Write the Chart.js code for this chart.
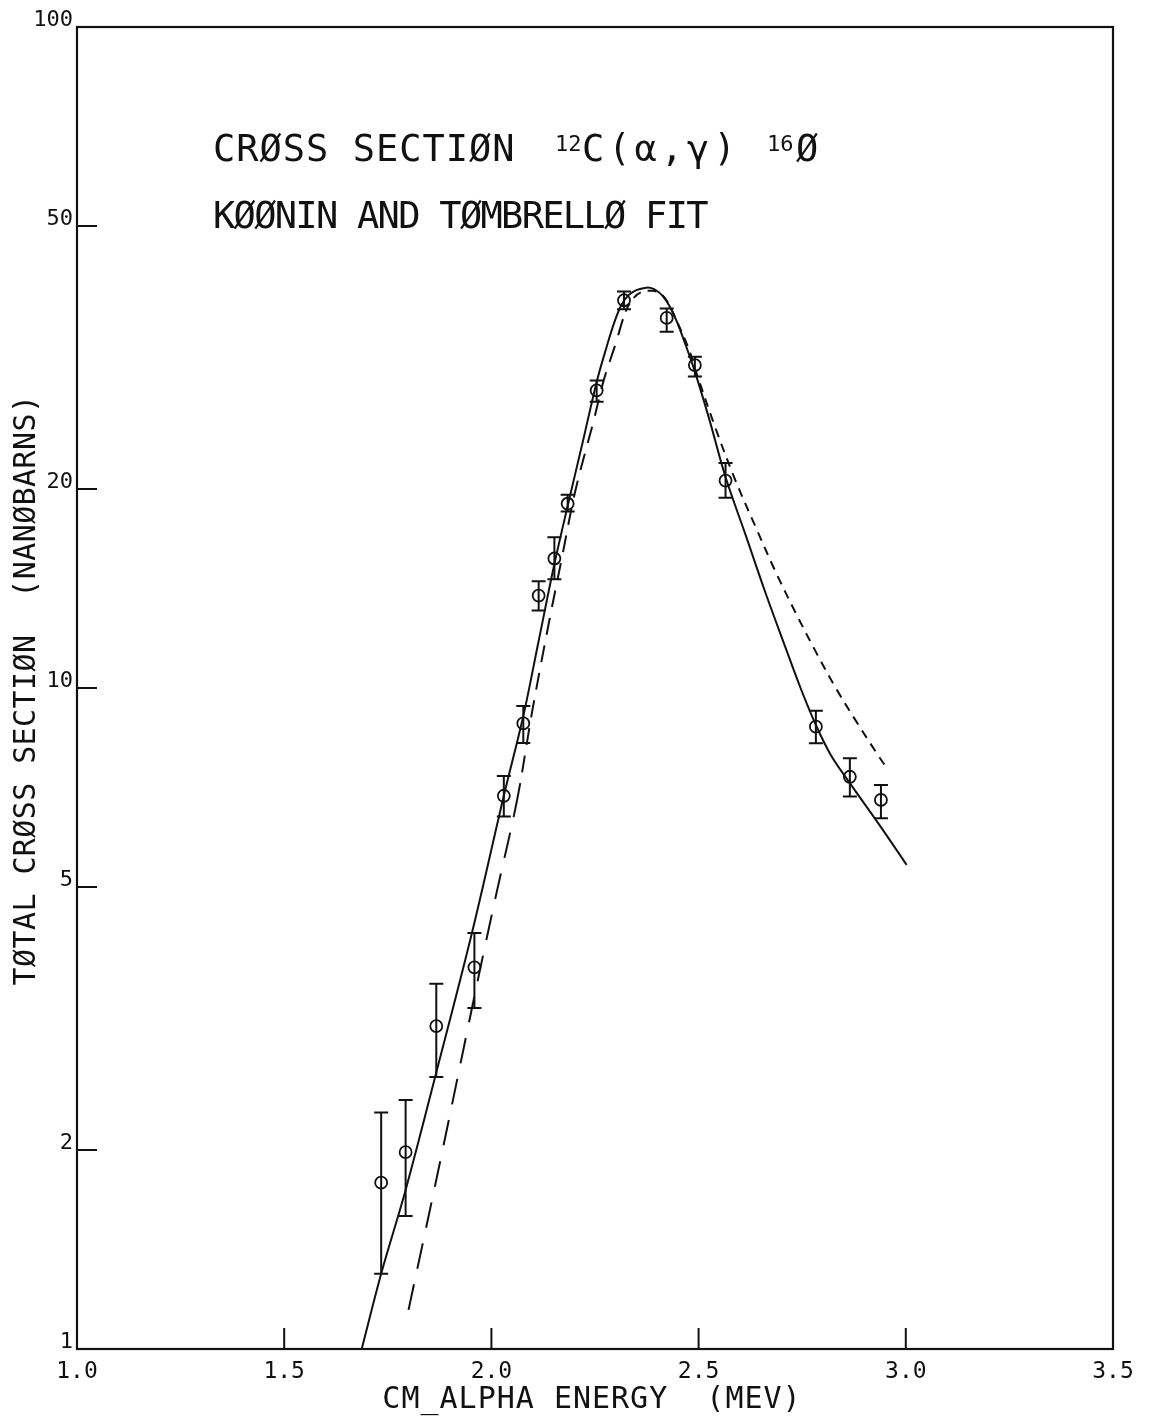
<!DOCTYPE html>
<html>
<head>
<meta charset="utf-8">
<script src="https://cdn.jsdelivr.net/npm/chart.js@4.4.1/dist/chart.umd.min.js"></script>
<style>
  html, body { margin: 0; padding: 0; background: #ffffff; }
  #wrap { width: 1154px; height: 1420px; position: relative; }
</style>
</head>
<body>
<div id="wrap"><canvas id="c" width="1154" height="1420"></canvas></div>
<script>
// ---- data ----
const pointEnergy = [1.734, 1.793, 1.867, 1.959, 2.030, 2.077, 2.114, 2.152, 2.184, 2.254, 2.320, 2.423, 2.491, 2.565, 2.783, 2.865, 2.940];
const pointSigma  = [1.785, 1.985, 3.08, 3.78, 6.87, 8.84, 13.8, 15.7, 19.0, 28.2, 38.6, 36.3, 30.8, 20.6, 8.74, 7.34, 6.77];
const errHigh     = [2.28, 2.38, 3.57, 4.26, 7.36, 9.39, 14.5, 16.9, 19.6, 29.2, 39.8, 37.5, 31.7, 21.9, 9.24, 7.83, 7.13];
const errLow      = [1.30, 1.59, 2.58, 3.28, 6.39, 8.26, 13.1, 14.6, 18.5, 27.1, 37.4, 34.6, 29.6, 19.4, 8.25, 6.85, 6.35];

const solidEnergy = [1.687, 1.734, 1.793, 1.867, 1.953, 2.030, 2.077, 2.114, 2.152, 2.184, 2.220, 2.255, 2.278, 2.297, 2.314, 2.331, 2.350, 2.370, 2.384, 2.399, 2.413, 2.428, 2.447, 2.469, 2.491, 2.525, 2.565, 2.614, 2.662, 2.710, 2.746, 2.783, 2.819, 2.865, 2.940, 3.002];
const solidSigma  = [1.00, 1.30, 1.74, 2.62, 4.26, 6.87, 9.07, 11.78, 15.40, 18.85, 23.5, 29.2, 32.8, 35.8, 38.0, 39.3, 40.0, 40.3, 40.3, 39.9, 39.2, 38.0, 35.9, 33.0, 30.1, 25.6, 20.85, 17.0, 13.9, 11.5, 10.0, 8.79, 7.92, 7.18, 6.16, 5.40];

const dashEnergy = [1.800, 1.877, 1.969, 2.014, 2.062, 2.099, 2.140, 2.171, 2.203, 2.247, 2.271, 2.300, 2.324, 2.343, 2.362, 2.388, 2.408, 2.425, 2.444, 2.477, 2.493, 2.541, 2.589, 2.638, 2.686, 2.734, 2.783, 2.831, 2.880, 2.928, 2.957];
const dashSigma  = [1.146, 1.93, 3.66, 4.95, 6.77, 9.26, 12.67, 15.84, 19.93, 25.4, 29.2, 33.2, 37.1, 38.9, 39.7, 39.9, 39.5, 38.4, 36.3, 32.5, 30.2, 24.7, 20.6, 17.5, 14.98, 13.0, 11.34, 10.0, 8.91, 8.00, 7.52];

const yTickValues = [1, 2, 5, 10, 20, 50, 100];
const xTickValues = [1.0, 1.5, 2.0, 2.5, 3.0, 3.5];

const titleLine1 = 'CRØSS SECTIØN';
const titleLine2 = 'KØØNIN AND TØMBRELLØ FIT';
const xAxisTitle = 'CM_ALPHA ENERGY  (MEV)';
const yAxisTitle = 'TØTAL CRØSS SECTIØN  (NANØBARNS)';

// ---- build ----
const zip = (xs, ys) => xs.map((x, i) => ({ x: x, y: ys[i] }));
const MONO = '"DejaVu Sans Mono", "Liberation Mono", monospace';
const INK = '#111111';

const decor = {
  id: 'decor',
  afterDatasetsDraw(chart) {
    const ctx = chart.ctx;
    const xs = chart.scales.x, ys = chart.scales.y;
    const a = chart.chartArea;
    ctx.save();
    // error bars
    ctx.strokeStyle = INK;
    ctx.lineWidth = 2;
    pointEnergy.forEach((e, i) => {
      const px = xs.getPixelForValue(e);
      const pHi = ys.getPixelForValue(errHigh[i]);
      const pLo = ys.getPixelForValue(errLow[i]);
      ctx.beginPath();
      ctx.moveTo(px, pHi); ctx.lineTo(px, pLo);
      ctx.moveTo(px - 7, pHi); ctx.lineTo(px + 7, pHi);
      ctx.moveTo(px - 7, pLo); ctx.lineTo(px + 7, pLo);
      ctx.stroke();
    });
    // frame
    ctx.lineWidth = 2.2;
    ctx.strokeRect(a.left, a.top, a.right - a.left, a.bottom - a.top);
    // inward ticks
    ctx.lineWidth = 2;
    ctx.beginPath();
    ys.ticks.forEach(t => {
      const py = ys.getPixelForValue(t.value);
      ctx.moveTo(a.left, py); ctx.lineTo(a.left + 20, py);
    });
    xs.ticks.forEach(t => {
      const px = xs.getPixelForValue(t.value);
      ctx.moveTo(px, a.bottom); ctx.lineTo(px, a.bottom - 21);
    });
    ctx.stroke();

    // titles
    ctx.fillStyle = INK;
    ctx.textBaseline = 'alphabetic';
    ctx.textAlign = 'left';
    ctx.font = '37px ' + MONO;
    ctx.letterSpacing = '1px';
    ctx.fillText(titleLine1, 213, 161);
    ctx.letterSpacing = '-1.7px';
    ctx.fillText(titleLine2, 213, 228);
    // formula 12C(a,g)16O
    ctx.letterSpacing = '0px';
    ctx.font = '22px ' + MONO;
    ctx.fillText('12', 555, 151);
    ctx.font = '37px ' + MONO;
    ctx.letterSpacing = '4px';
    ctx.fillText('C(α,γ)', 582, 161);
    ctx.font = '22px ' + MONO;
    ctx.letterSpacing = '0px';
    ctx.fillText('16', 767, 151);
    ctx.font = '37px ' + MONO;
    ctx.fillText('Ø', 796, 161);

    // axis titles
    ctx.font = '30px ' + MONO;
    ctx.textAlign = 'center';
    ctx.textBaseline = 'middle';
    ctx.letterSpacing = '1px';
    ctx.fillText(xAxisTitle, 592, 1400);
    ctx.translate(27, 690);
    ctx.rotate(-Math.PI / 2);
    ctx.letterSpacing = '0.4px';
    ctx.fillText(yAxisTitle, 0, 0);
    ctx.restore();
  }
};

new Chart(document.getElementById('c'), {
  type: 'scatter',
  data: {
    datasets: [
      {
        label: 'Koonin & Tombrello fit (solid)',
        data: zip(solidEnergy, solidSigma),
        showLine: true,
        borderColor: INK,
        borderWidth: 2,
        pointRadius: 0,
        fill: false,
        tension: 0.35
      },
      {
        label: 'fit (dashed)',
        data: zip(dashEnergy, dashSigma),
        showLine: true,
        borderColor: INK,
        borderWidth: 2,
        pointRadius: 0,
        fill: false,
        tension: 0.35,
        segment: {
          borderDash: c => (c.p0.parsed.x < 2.05 ? [26, 16] : (c.p0.parsed.x < 2.32 ? [17, 11] : [9, 7]))
        }
      },
      {
        label: 'data',
        data: zip(pointEnergy, pointSigma),
        showLine: false,
        pointStyle: 'circle',
        pointRadius: 6,
        pointBorderWidth: 1.8,
        pointBorderColor: INK,
        pointBackgroundColor: 'rgba(255,255,255,0)'
      }
    ]
  },
  options: {
    responsive: false,
    animation: false,
    devicePixelRatio: 1,
    layout: { padding: { top: 27, right: 41, left: 0, bottom: 0 } },
    plugins: { legend: { display: false }, tooltip: { enabled: false } },
    scales: {
      x: {
        type: 'linear',
        min: 1.0,
        max: 3.5,
        afterBuildTicks: s => { s.ticks = xTickValues.map(v => ({ value: v })); },
        afterFit: s => { s.height = 71; },
        grid: { display: false, drawTicks: false },
        border: { display: false },
        ticks: {
          color: INK,
          padding: 9,
          maxRotation: 0,
          font: { family: MONO, size: 23 },
          callback: v => Number(v).toFixed(1)
        }
      },
      y: {
        type: 'logarithmic',
        min: 1,
        max: 100,
        afterBuildTicks: s => { s.ticks = yTickValues.map(v => ({ value: v })); },
        afterFit: s => { s.width = 77; },
        grid: { display: false, drawTicks: false },
        border: { display: false },
        ticks: {
          color: INK,
          padding: 4,
          labelOffset: -7,
          font: { family: MONO, size: 22 },
          callback: v => String(v)
        }
      }
    }
  },
  plugins: [decor]
});
</script>
</body>
</html>
